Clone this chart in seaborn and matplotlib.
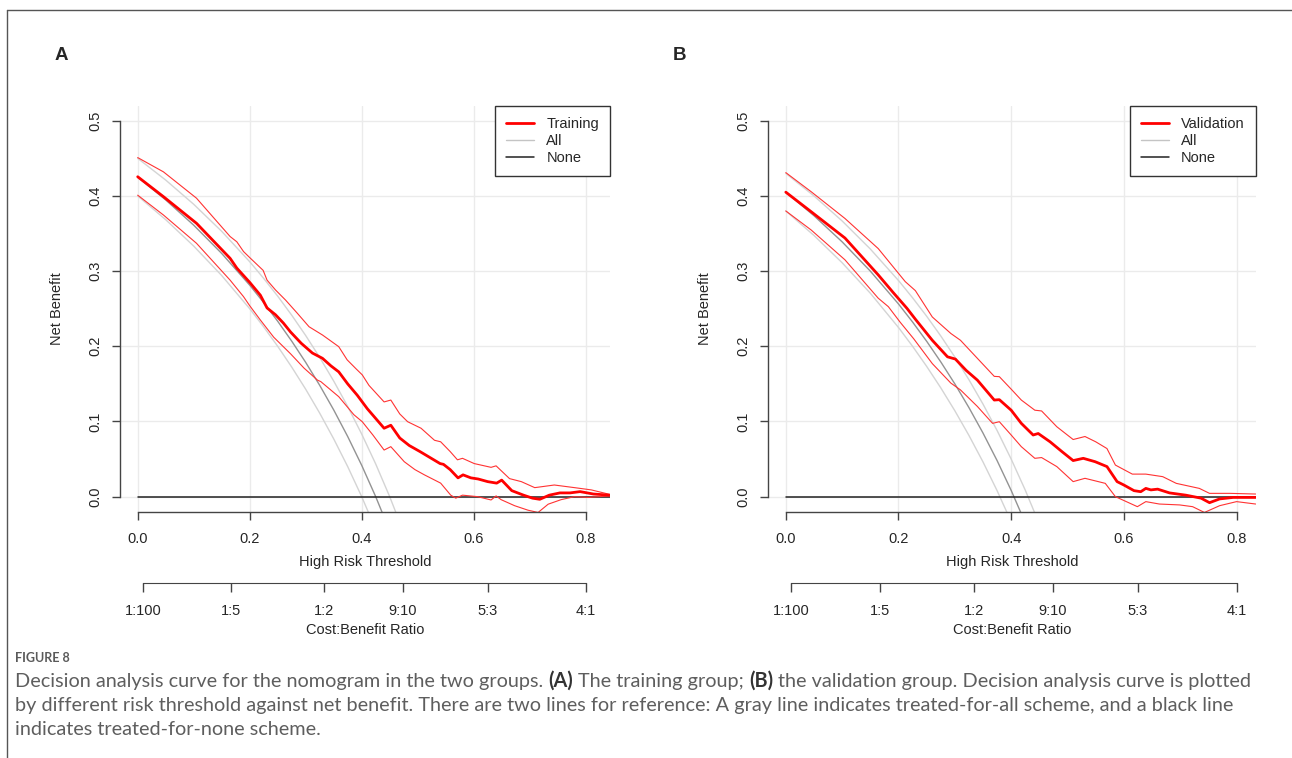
import matplotlib
matplotlib.use("Agg")
import matplotlib.pyplot as plt
from matplotlib.lines import Line2D
from matplotlib import font_manager
import seaborn as sns

# ---- panel A : training group (net benefit) ----
train_x = [0.000, 0.046, 0.105, 0.165, 0.177, 0.200, 0.219, 0.231, 0.246, 0.260, 0.273,
           0.292, 0.312, 0.330, 0.345, 0.359, 0.375, 0.392, 0.410, 0.425, 0.440, 0.452, 0.468,
           0.485, 0.504, 0.522, 0.540, 0.546, 0.558, 0.572, 0.581, 0.595, 0.608, 0.625, 0.641,
           0.650, 0.668, 0.689, 0.705, 0.718, 0.735, 0.754, 0.772, 0.790, 0.814, 0.843]
train_nb = [0.4255, 0.399, 0.3636, 0.317, 0.304, 0.285, 0.268, 0.251, 0.242, 0.231, 0.219,
            0.204, 0.191, 0.184, 0.174, 0.166, 0.150, 0.135, 0.117, 0.104, 0.091, 0.095, 0.078,
            0.068, 0.060, 0.052, 0.044, 0.043, 0.036, 0.025, 0.029, 0.025, 0.0235, 0.020, 0.018,
            0.022, 0.008, 0.002, -0.002, -0.0035, 0.002, 0.005, 0.005, 0.0067, 0.0035, 0.002]

train_hi_x = [0.000, 0.046, 0.105, 0.165, 0.177, 0.189, 0.200, 0.224, 0.231, 0.246, 0.264, 0.285,
              0.306, 0.330, 0.345, 0.359, 0.374, 0.390, 0.401, 0.413, 0.440, 0.452, 0.468, 0.482,
              0.506, 0.530, 0.541, 0.558, 0.571, 0.580, 0.601, 0.631, 0.640, 0.664, 0.685, 0.709,
              0.744, 0.780, 0.810, 0.843]
train_hi = [0.451, 0.432, 0.397, 0.346, 0.339, 0.326, 0.318, 0.301, 0.288, 0.275, 0.2615, 0.244,
            0.226, 0.215, 0.207, 0.1995, 0.182, 0.170, 0.162, 0.148, 0.126, 0.1285, 0.110, 0.0997,
            0.091, 0.075, 0.073, 0.060, 0.049, 0.051, 0.044, 0.039, 0.041, 0.024, 0.020, 0.012,
            0.0155, 0.012, 0.009, 0.003]

train_lo_x = [0.000, 0.046, 0.105, 0.165, 0.189, 0.200, 0.219, 0.243, 0.273, 0.297, 0.321,
              0.327, 0.359, 0.386, 0.401, 0.420, 0.440, 0.452, 0.476, 0.495, 0.512, 0.541, 0.559,
              0.568, 0.580, 0.607, 0.631, 0.640, 0.649, 0.673, 0.697, 0.715, 0.733, 0.756, 0.780,
              0.804, 0.843]
train_lo = [0.401, 0.3746, 0.337, 0.288, 0.266, 0.254, 0.235, 0.212, 0.190, 0.171, 0.155,
            0.153, 0.133, 0.109, 0.0997, 0.082, 0.062, 0.0665, 0.0465, 0.036, 0.029, 0.018, 0.002,
            -0.002, 0.002, 0.000, -0.0044, 0.001, -0.004, -0.012, -0.018, -0.021, -0.010, -0.004, 0.000,
            -0.001, 0.001]

# ---- panel B : validation group ----
valid_x = [0.000, 0.045, 0.105, 0.164, 0.190, 0.215, 0.230, 0.260, 0.287, 0.301, 0.320, 0.340,
           0.370, 0.379, 0.400, 0.418, 0.439, 0.448, 0.469, 0.490, 0.510, 0.528, 0.549, 0.570,
           0.588, 0.600, 0.618, 0.630, 0.639, 0.648, 0.660, 0.681, 0.710, 0.737, 0.752, 0.770,
           0.794, 0.834]
valid_nb = [0.405, 0.379, 0.344, 0.295, 0.272, 0.2505, 0.236, 0.208, 0.186, 0.183, 0.168, 0.155,
            0.1285, 0.129, 0.115, 0.0975, 0.082, 0.084, 0.073, 0.060, 0.048, 0.051, 0.0465, 0.040,
            0.020, 0.0155, 0.008, 0.0066, 0.011, 0.009, 0.010, 0.005, 0.002, -0.002, -0.008, -0.003,
            -0.001, -0.001]

valid_hi_x = [0.000, 0.045, 0.105, 0.164, 0.188, 0.212, 0.230, 0.260, 0.293, 0.310, 0.340, 0.370,
              0.379, 0.400, 0.418, 0.442, 0.454, 0.481, 0.510, 0.531, 0.550, 0.570, 0.585, 0.615,
              0.639, 0.669, 0.693, 0.734, 0.752, 0.788, 0.834]
valid_hi = [0.431, 0.4056, 0.370, 0.330, 0.308, 0.286, 0.274, 0.239, 0.217, 0.208, 0.184, 0.160,
            0.1596, 0.143, 0.1285, 0.115, 0.114, 0.093, 0.076, 0.080, 0.073, 0.064, 0.042, 0.030,
            0.030, 0.0266, 0.0177, 0.011, 0.0044, 0.0044, 0.0035]

valid_lo_x = [0.000, 0.045, 0.105, 0.164, 0.182, 0.203, 0.227, 0.260, 0.293, 0.310, 0.340, 0.367,
              0.379, 0.400, 0.418, 0.442, 0.454, 0.481, 0.510, 0.531, 0.567, 0.585, 0.624, 0.639,
              0.663, 0.699, 0.722, 0.743, 0.770, 0.800, 0.834]
valid_lo = [0.380, 0.3547, 0.315, 0.264, 0.2527, 0.232, 0.210, 0.177, 0.151, 0.142, 0.120, 0.0975,
            0.0997, 0.082, 0.0665, 0.051, 0.052, 0.040, 0.020, 0.0244, 0.0177, 0.000, -0.0133, -0.0066,
            -0.0098, -0.011, -0.0133, -0.021, -0.012, -0.0066, -0.0098]

# ---- "All" reference curves (treat everyone), centre and band ----
all_x = [0.000, 0.050, 0.100, 0.150, 0.200, 0.225, 0.250, 0.275, 0.300, 0.325, 0.350, 0.375,
         0.400, 0.425, 0.450, 0.475]
train_all = [0.425, 0.3947, 0.3611, 0.3235, 0.2813, 0.2581, 0.2333, 0.2069, 0.1786, 0.1481,
             0.1154, 0.0800, 0.0417, 0.0000, -0.0455, -0.0950]
train_all_hi = [0.450, 0.4211, 0.3889, 0.3529, 0.3125, 0.2903, 0.2667, 0.2414, 0.2143, 0.1852,
                0.1538, 0.1200, 0.0833, 0.0435, 0.0000, -0.0476]
train_all_lo = [0.400, 0.3684, 0.3333, 0.2941, 0.2500, 0.2258, 0.2000, 0.1724, 0.1429, 0.1111,
                0.0769, 0.0400, 0.0000, -0.0435, -0.0909, -0.1429]
valid_all = [0.405, 0.3737, 0.3389, 0.3000, 0.2563, 0.2323, 0.2067, 0.1793, 0.1500, 0.1185,
             0.0846, 0.0480, 0.0083, -0.0348, -0.0818, -0.1333]
valid_all_hi = [0.430, 0.4000, 0.3667, 0.3294, 0.2875, 0.2645, 0.2400, 0.2138, 0.1857, 0.1556,
                0.1231, 0.0880, 0.0500, 0.0087, -0.0364, -0.0857]
valid_all_lo = [0.380, 0.3474, 0.3111, 0.2706, 0.2250, 0.2000, 0.1733, 0.1448, 0.1143, 0.0815,
                0.0462, 0.0080, -0.0333, -0.0783, -0.1270, -0.1810]

none_x = [0.0, 0.85]
none_nb = [0.0, 0.0]

x_ticks = [0.0, 0.2, 0.4, 0.6, 0.8]
y_ticks = [0.0, 0.1, 0.2, 0.3, 0.4, 0.5]
ratio_labels = ["1:100", "1:5", "1:2", "9:10", "5:3", "4:1"]

W, H = 1292, 758
sns.set_style("white")
plt.rcParams["font.family"] = ["Liberation Sans", "DejaVu Sans"]

fig = plt.figure(figsize=(W / 100, H / 100), dpi=100)


def px_box(left, top, right, bottom):
    return [left / W, 1 - bottom / H, (right - left) / W, (bottom - top) / H]


def ratio_pos(lab):
    c, b = lab.split(":")
    return float(c) / (float(c) + float(b))


def draw_panel(ax, xs, name, xlim):
    (mx, my), (hx, hy), (lx, ly), (ac, ah, al) = xs
    ax.set_xlim(*xlim)
    ax.set_ylim(-0.02, 0.52)
    ax.set_xticks(x_ticks)
    ax.set_yticks(y_ticks)
    ax.set_xticklabels([f"{v:.1f}" for v in x_ticks])
    ax.set_yticklabels([f"{v:.1f}" for v in y_ticks], rotation=90, va="center")
    ax.grid(True, color="#ebebeb", lw=1)
    ax.set_axisbelow(True)
    for s in ["top", "right"]:
        ax.spines[s].set_visible(False)
    ax.spines["left"].set_bounds(0, 0.5)
    ax.spines["bottom"].set_bounds(0, 0.8)
    for s in ["left", "bottom"]:
        ax.spines[s].set_color("#444444")
        ax.spines[s].set_linewidth(1)
    ax.tick_params(direction="out", length=6, width=1, color="#444444",
                   labelsize=10.5, left=True, bottom=True)
    ax.tick_params(axis="x", pad=8.5)
    ax.tick_params(axis="y", pad=7)

    # treat-all band and curve
    sns.lineplot(x=all_x, y=ah, ax=ax, color="#d4d4d4", lw=1, estimator=None, sort=False)
    sns.lineplot(x=all_x, y=al, ax=ax, color="#d4d4d4", lw=1, estimator=None, sort=False)
    sns.lineplot(x=all_x, y=ac, ax=ax, color="#939393", lw=1, estimator=None, sort=False)
    # treat-none
    sns.lineplot(x=none_x, y=none_nb, ax=ax, color="#222222", lw=1.1, estimator=None, sort=False)
    # model with band
    sns.lineplot(x=hx, y=hy, ax=ax, color="#ff3333", lw=0.8, estimator=None, sort=False)
    sns.lineplot(x=lx, y=ly, ax=ax, color="#ff3333", lw=0.8, estimator=None, sort=False)
    sns.lineplot(x=mx, y=my, ax=ax, color="#ff0000", lw=2.0, estimator=None, sort=False)

    ax.set_xlabel("High Risk Threshold", fontsize=10.5)
    ax.set_ylabel("Net Benefit", fontsize=10.5)
    ax.xaxis.set_label_coords(0.5, -0.106)
    ax.yaxis.set_label_coords(-0.114, 0.5)

    handles = [Line2D([], [], color="#ff0000", lw=2.0),
               Line2D([], [], color="#c4c4c4", lw=1),
               Line2D([], [], color="#222222", lw=1.1)]
    leg = ax.legend(handles, [name, "All", "None"], loc="upper right",
                    bbox_to_anchor=(1.0, 1.0), frameon=True, fancybox=False,
                    framealpha=1, edgecolor="#333333", borderaxespad=0,
                    fontsize=10.5, handlelength=1.9, handletextpad=0.85,
                    borderpad=0.75, labelspacing=0.22)
    leg.get_frame().set_linewidth(1)

    # cost:benefit ratio axis
    sec = ax.secondary_xaxis(-0.1756)
    sec.set_xticks([ratio_pos(r) for r in ratio_labels], labels=ratio_labels)
    sec.spines["bottom"].set_bounds(ratio_pos(ratio_labels[0]), ratio_pos(ratio_labels[-1]))
    sec.spines["bottom"].set_color("#444444")
    sec.tick_params(direction="out", length=6.5, width=1, color="#444444", labelsize=10.5, pad=8.5)
    sec.set_xlabel("Cost:Benefit Ratio", fontsize=10.5, labelpad=3.5)


ax_a = fig.add_axes(px_box(120, 105.7, 610, 511.7))
draw_panel(ax_a, [(train_x, train_nb), (train_hi_x, train_hi), (train_lo_x, train_lo),
                  (train_all, train_all_hi, train_all_lo)],
           "Training", (-0.0316, 0.8434))

ax_b = fig.add_axes(px_box(768, 105.7, 1255.7, 511.7))
draw_panel(ax_b, [(valid_x, valid_nb), (valid_hi_x, valid_hi), (valid_lo_x, valid_lo),
                  (valid_all, valid_all_hi, valid_all_lo)],
           "Validation", (-0.0316, 0.834))

fig.text(61 / W, 1 - 55 / H, "A", fontsize=13.5, fontweight="bold", ha="center", va="center")
fig.text(680 / W, 1 - 55 / H, "B", fontsize=13.5, fontweight="bold", ha="center", va="center")

# page frame
fig.add_artist(Line2D([7 / W, 1.0], [1 - 10 / H, 1 - 10 / H], color="#555555", lw=1))
fig.add_artist(Line2D([7 / W, 7 / W], [1 - 10 / H, 0.0], color="#555555", lw=1))

# caption
names = {f.name for f in font_manager.fontManager.ttflist}
cap_font = next((f for f in ["Liberation Sans Narrow", "DejaVu Sans Condensed", "Lato"] if f in names),
                "Liberation Sans")
cap_family = [cap_font, "DejaVu Sans"]
renderer = fig.canvas.get_renderer()

fig.text(15 / W, 1 - 662 / H, "FIGURE 8", fontsize=9, color="#5a5a5a", family=cap_family,
         fontweight="bold", va="baseline")

cap_lines = [
    [("Decision analysis curve for the nomogram in the two groups.", False), ("(A)", True),
     ("The training group;", False), ("(B)", True),
     ("the validation group. Decision analysis curve is plotted", False)],
    [("by different risk threshold against net benefit. There are two lines for reference: "
      "A gray line indicates treated-for-all scheme, and a black line", False)],
    [("indicates treated-for-none scheme.", False)],
]


def weight(bold):
    return "bold" if bold else "normal"


def measure(txt, size, bold):
    t = fig.text(0, 0, txt, fontsize=size, family=cap_family, fontweight=weight(bold))
    w = t.get_window_extent(renderer).width
    t.remove()
    return w


def line_width(pieces, size):
    sp = measure("a a", size, False) - measure("aa", size, False)
    return sum(measure(t, size, b) for t, b in pieces) + sp * (len(pieces) - 1)


cap_size = 12 * 1233 / line_width(cap_lines[0], 12)
space = measure("a a", cap_size, False) - measure("aa", cap_size, False)
for i, pieces in enumerate(cap_lines):
    x = 15
    for txt, bold in pieces:
        t = fig.text(x / W, 1 - (687 + 24 * i) / H, txt, fontsize=cap_size, family=cap_family,
                     fontweight=weight(bold),
                     color="#333333" if bold else "#5e5e5e", va="baseline")
        x += t.get_window_extent(renderer).width + space

fig.savefig("out.png", dpi=100)
